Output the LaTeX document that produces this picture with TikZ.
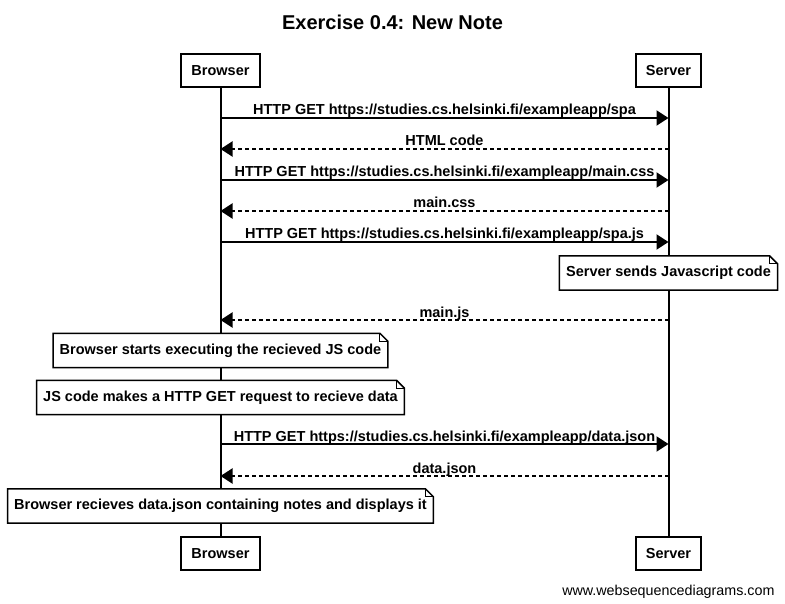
\documentclass[tikz,border=0pt]{standalone}
\usepackage{fontspec}
\setmainfont{Liberation Sans}
\usetikzlibrary{arrows.meta, positioning}

\newcommand{\labelfont}{\bfseries\fontsize{14.5}{16}\selectfont}
% folded corner of a note
\newcommand{\dogear}[1]{%
    \draw[noteline] (#1.north west) -- ([xshift=-8pt]#1.north east) -- ([yshift=-8pt]#1.north east)
        -- (#1.south east) -- (#1.south west) -- cycle;
    \draw[noteline, line width=1pt] ([xshift=-8pt]#1.north east) |- ([yshift=-8pt]#1.north east);}

\tikzset{
    actor/.style={draw, line width=2pt, fill=white, minimum height=33pt, inner xsep=10pt, font=\labelfont},
    note/.style={fill=white, minimum height=34pt, inner xsep=6.5pt, font=\labelfont},
    noteline/.style={line width=1.5pt},
    life/.style={line width=2pt},
    req/.style={line width=2pt, -{Triangle[length=12pt, width=15pt]}},
    resp/.style={req, dash pattern=on 4pt off 3pt},
    lbl/.style={anchor=base, yshift=3pt, inner sep=0pt, font=\labelfont}
}

\begin{document}
\begin{tikzpicture}[x=1pt, y=-1pt]
    \fill[white, use as bounding box] (0,0) rectangle (785,604);

    \node[font=\bfseries\fontsize{20}{24}\selectfont] (title) at (392.5,22) {Exercise 0.4: New Note};

    % participants
    \node[actor] (browserTop) at (220.5,70.5) {Browser};
    \node[actor] (serverTop) at (668.5,70.5) {Server};
    \node[actor] (browserBot) at (220.5,553.5) {Browser};
    \node[actor] (serverBot) at (668.5,553.5) {Server};

    \draw[life] (browserTop) -- (browserBot);
    \draw[life] (serverTop) -- (serverBot);

    % points on the lifelines
    \foreach \n/\y in {1/118, 2/149, 3/180, 4/211, 5/242, 6/320, 7/444, 8/476} {
        \coordinate (b\n) at (browserTop.south |- 0,\y);
        \coordinate (s\n) at (serverTop.south |- 0,\y);
    }

    % messages
    \draw[req] (b1) -- node[lbl] {HTTP GET https://studies.cs.helsinki.fi/exampleapp/spa} (s1);
    \draw[resp] (s2) -- node[lbl] {HTML code} (b2);
    \draw[req] (b3) -- node[lbl] {HTTP GET https://studies.cs.helsinki.fi/exampleapp/main.css} (s3);
    \draw[resp] (s4) -- node[lbl] {main.css} (b4);
    \draw[req] (b5) -- node[lbl] {HTTP GET https://studies.cs.helsinki.fi/exampleapp/spa.js} (s5);
    \draw[resp] (s6) -- node[lbl] {main.js} (b6);
    \draw[req] (b7) -- node[lbl] {HTTP GET https://studies.cs.helsinki.fi/exampleapp/data.json} (s7);
    \draw[resp] (s8) -- node[lbl] {data.json} (b8);

    % notes
    \node[note] (noteJs) at (668.5,273) {Server sends Javascript code};
    \dogear{noteJs}
    \node[note] (noteExec) at (220.5,350.5) {Browser starts executing the recieved JS code};
    \dogear{noteExec}
    \node[note] (noteReq) at (220.5,397.5) {JS code makes a HTTP GET request to recieve data};
    \dogear{noteReq}
    \node[note] (noteShow) at (220.5,506) {Browser recieves data.json containing notes and displays it};
    \dogear{noteShow}

    \node[anchor=base east, font=\fontsize{14.3}{16}\selectfont] (credit) at (778,595) {www.websequencediagrams.com};
\end{tikzpicture}
\end{document}
